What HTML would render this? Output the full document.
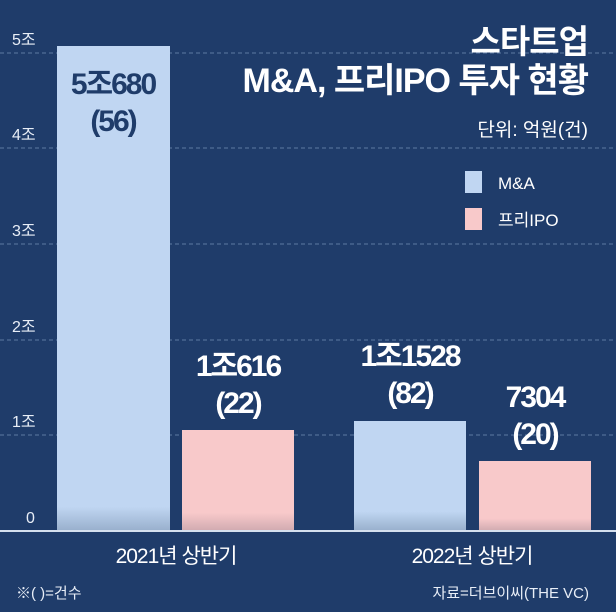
<!DOCTYPE html>
<html><head><meta charset="utf-8"><style>
html,body{margin:0;padding:0;background:#1f3c6a;}
svg{display:block}
text{font-family:"Liberation Sans","Noto Sans CJK KR",sans-serif;}
</style></head><body>
<svg width="616" height="612" viewBox="0 0 616 612" xmlns="http://www.w3.org/2000/svg">
<defs>
<linearGradient id="gb" x1="0" y1="0" x2="0" y2="1">
<stop offset="0.95" stop-color="#c0d6f2"/><stop offset="1" stop-color="#98afcc"/></linearGradient>
<linearGradient id="gp" x1="0" y1="0" x2="0" y2="1">
<stop offset="0.82" stop-color="#f8c9ca"/><stop offset="1" stop-color="#d0aab0"/></linearGradient>
<linearGradient id="gb3" x1="0" y1="0" x2="0" y2="1">
<stop offset="0.82" stop-color="#c0d6f2"/><stop offset="1" stop-color="#98afcc"/></linearGradient>
</defs>
<rect width="616" height="612" fill="#1f3c6a"/>
<g stroke="#5d7aa3" stroke-width="1" stroke-dasharray="4,3">
<line x1="0" y1="53" x2="616" y2="53"/>
<line x1="0" y1="148" x2="616" y2="148"/>
<line x1="0" y1="244" x2="616" y2="244"/>
<line x1="0" y1="340" x2="616" y2="340"/>
<line x1="0" y1="435" x2="616" y2="435"/>
</g>
<g fill="#e8eef7" font-size="16">
<text x="12" y="45">5조</text>
<text x="12" y="140">4조</text>
<text x="12" y="236">3조</text>
<text x="12" y="332">2조</text>
<text x="12" y="427">1조</text>
<text x="26" y="523">0</text>
</g>
<rect x="57" y="46" width="113" height="485" fill="url(#gb)"/>
<rect x="182" y="430" width="112" height="101" fill="url(#gp)"/>
<rect x="354" y="421" width="112" height="110" fill="url(#gb3)"/>
<rect x="479" y="461" width="112" height="70" fill="url(#gp)"/>
<line x1="0" y1="531" x2="616" y2="531" stroke="#d5e0ee" stroke-width="2"/>
<g font-weight="bold" text-anchor="middle" font-size="30" fill="#1f3c6a" letter-spacing="-2">
<text x="113" y="94">5조680</text>
<text x="113" y="131">(56)</text>
</g>
<g font-weight="bold" text-anchor="middle" font-size="30" fill="#ffffff" letter-spacing="-2">
<text x="238" y="376">1조616</text>
<text x="238" y="413">(22)</text>
<text x="410" y="366">1조1528</text>
<text x="410" y="403">(82)</text>
<text x="535" y="407">7304</text>
<text x="535" y="444">(20)</text>
</g>
<g fill="#ffffff" font-weight="bold" font-size="33" text-anchor="end" letter-spacing="-1">
<text x="588" y="53">스타트업</text>
<text x="588" y="92" font-size="34">M&amp;A, 프리IPO 투자 현황</text>
</g>
<text x="588" y="136" fill="#ffffff" font-size="19" text-anchor="end">단위: 억원(건)</text>
<rect x="465" y="171" width="17" height="22" fill="#c0d6f2"/>
<rect x="465" y="208" width="17" height="22" fill="#f8c9ca"/>
<text x="498" y="189" fill="#ffffff" font-size="17">M&amp;A</text>
<text x="498" y="226" fill="#ffffff" font-size="17">프리IPO</text>
<g fill="#ffffff" font-size="21" text-anchor="middle" letter-spacing="-1">
<text x="176" y="563">2021년 상반기</text>
<text x="472" y="563">2022년 상반기</text>
</g>
<text x="16" y="598" fill="#e8eef7" font-size="15">※( )=건수</text>
<text x="589" y="598" fill="#e8eef7" font-size="15" text-anchor="end">자료=더브이씨(THE VC)</text>
</svg>
</body></html>
